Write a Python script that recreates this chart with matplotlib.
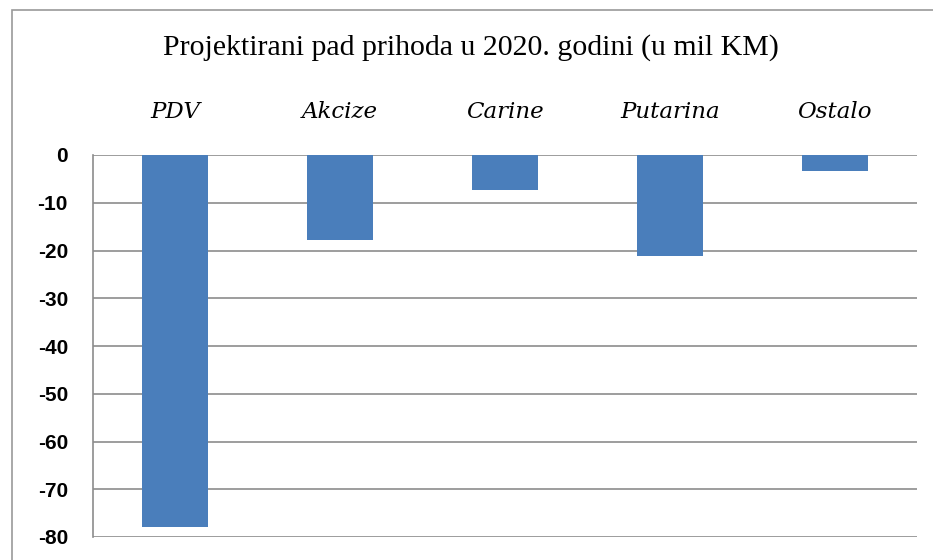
import matplotlib
matplotlib.use("Agg")
import matplotlib.pyplot as plt
from matplotlib.patches import Rectangle

categories = ["PDV", "Akcize", "Carine", "Putarina", "Ostalo"]
values = [-78.0, -17.8, -7.3, -21.2, -3.4]
yticks = [0, -10, -20, -30, -40, -50, -60, -70, -80]
title = "Projektirani pad prihoda u 2020. godini (u mil KM)"

W, H = 933, 560
fig = plt.figure(figsize=(W / 100, H / 100), dpi=100)
fig.patch.set_facecolor("white")

# outer chart frame
fig.patches.append(Rectangle((12 / W, -0.1), 1.2, 1 - 10 / H + 0.1,
                             transform=fig.transFigure, fill=False,
                             edgecolor="#9a9a9a", linewidth=1.2))

ax = fig.add_axes([93 / W, 1 - 537 / H, (917 - 93) / W, (537 - 155) / H])
x = list(range(len(categories)))
ax.bar(x, values, width=0.4, color="#4a7ebb", zorder=3)
ax.set_xlim(-0.5, len(categories) - 0.5)
ax.set_ylim(-80, 0)
ax.set_yticks(yticks)
ax.set_yticklabels([str(t) for t in yticks], fontsize=15, fontweight="bold",
                   family=["Liberation Sans", "DejaVu Sans"])
ax.tick_params(axis="y", length=0, pad=18)
ax.set_xticks([])
ax.yaxis.grid(True, color="#8c8c8c", linewidth=1.2, zorder=0)
for s in ["top", "right", "bottom"]:
    ax.spines[s].set_visible(False)
ax.spines["left"].set_color("#8c8c8c")
ax.spines["left"].set_linewidth(1.2)

label_y = 1.0 + (155 - 112) / (537 - 155)
for xi, c in zip(x, categories):
    ax.text(xi, label_y, c, transform=ax.get_xaxis_transform(), ha="center",
            va="center", fontsize=16.5, fontstyle="italic",
            family=["DejaVu Serif"])

fig.text(471 / W, 1 - 48 / H, title, ha="center", va="center", fontsize=21.5,
         family=["Liberation Serif", "DejaVu Serif"])

fig.savefig("out.png", dpi=100, facecolor="white")
